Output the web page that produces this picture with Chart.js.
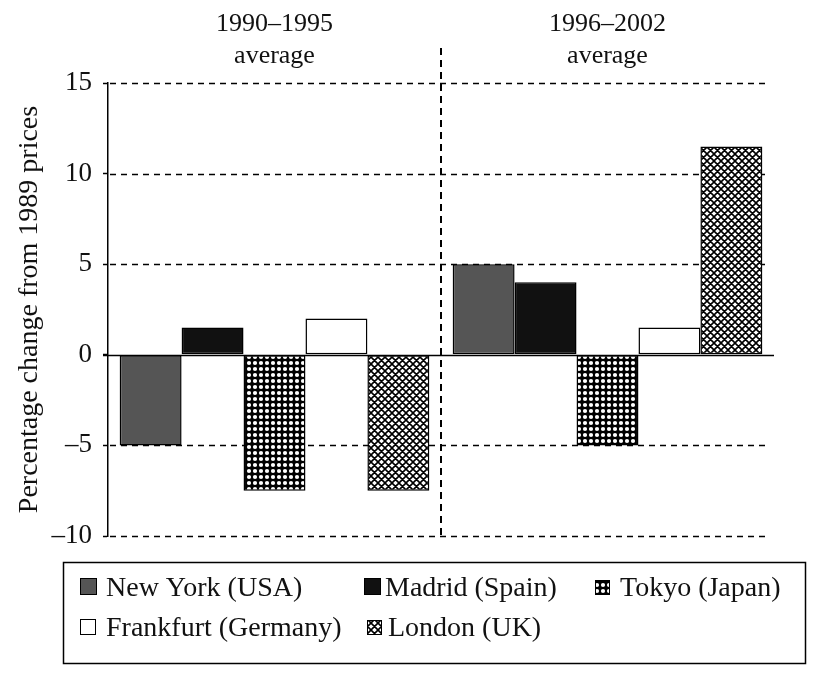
<!DOCTYPE html>
<html>
<head>
<meta charset="utf-8">
<script src="https://cdn.jsdelivr.net/npm/chart.js@4/dist/chart.umd.min.js"></script>
<style>
  body { margin: 0; background: #fff; }
  canvas { display: block; }
</style>
</head>
<body>
<canvas id="chart" width="816" height="676"></canvas>
<script>
// data
const periods = [['1990–1995', 'average'], ['1996–2002', 'average']];
const cities = ['New York (USA)', 'Madrid (Spain)', 'Tokyo (Japan)', 'Frankfurt (Germany)', 'London (UK)'];
const newYork = [-5, 5];
const madrid = [1.5, 4];
const tokyo = [-7.5, -5];
const frankfurt = [2, 1.5];
const london = [-7.5, 11.5];
const yTicks = [-10, -5, 0, 5, 10, 15];
const yTitle = 'Percentage change from 1989 prices';

const FONT = '"Liberation Serif", "DejaVu Serif", serif';

function dotPattern() {
    const c = document.createElement('canvas');
    c.width = 6; c.height = 6;
    const g = c.getContext('2d');
    g.fillStyle = '#000';
    g.fillRect(0, 0, 6, 6);
    g.fillStyle = '#fff';
    g.beginPath();
    g.arc(3, 3, 2.1, 0, Math.PI * 2);
    g.fill();
    return g.createPattern(c, 'repeat');
}

function hatchPattern() {
    const s = 7;
    const c = document.createElement('canvas');
    c.width = s; c.height = s;
    const g = c.getContext('2d');
    g.fillStyle = '#fff';
    g.fillRect(0, 0, s, s);
    g.strokeStyle = '#000';
    g.lineWidth = 1.6;
    g.beginPath();
    for (const k of [-s, 0, s]) {
        g.moveTo(k, 0); g.lineTo(k + s, s);
        g.moveTo(k + s, 0); g.lineTo(k, s);
    }
    g.stroke();
    return g.createPattern(c, 'repeat');
}

const fills = ['#555555', '#111111', dotPattern(), '#ffffff', hatchPattern()];
const series = [newYork, madrid, tokyo, frankfurt, london];

// legend entries: marker x, marker top, marker size, text x, text middle
const legendSpots = [
    [80, 578, 17, 106, 588],
    [364, 578, 17, 385, 588],
    [595, 580, 15, 620, 588],
    [80, 619, 16, 106, 628],
    [367, 620, 15, 388, 628]
];

const decorations = {
    id: 'decorations',
    beforeDatasetsDraw(chart) {
        const ctx = chart.ctx;
        const y = chart.scales.y, x = chart.scales.x;
        const area = chart.chartArea;
        ctx.save();
        ctx.strokeStyle = '#000';
        // dashed grid lines
        ctx.lineWidth = 1.5;
        ctx.setLineDash([6, 5]);
        for (const t of yTicks) {
            if (t === 0) continue;
            const py = Math.round(y.getPixelForValue(t)) + 0.5;
            ctx.beginPath();
            ctx.moveTo(area.left + 2, py);
            ctx.lineTo(area.right - 6, py);
            ctx.stroke();
        }
        // divider between periods
        const mid = (x.getPixelForValue(0) + x.getPixelForValue(1)) / 2;
        ctx.lineWidth = 2;
        ctx.setLineDash([7, 5]);
        ctx.beginPath();
        ctx.moveTo(mid, 48);
        ctx.lineTo(mid, area.bottom);
        ctx.stroke();
        ctx.restore();
    },
    afterDatasetsDraw(chart) {
        const ctx = chart.ctx;
        const y = chart.scales.y, x = chart.scales.x;
        const area = chart.chartArea;
        ctx.save();
        // zero line
        const z = Math.round(y.getPixelForValue(0)) + 0.5;
        ctx.strokeStyle = '#000';
        ctx.lineWidth = 1.5;
        ctx.beginPath();
        ctx.moveTo(area.left - 5, z);
        ctx.lineTo(area.right, z);
        ctx.stroke();

        // period labels on top
        ctx.fillStyle = '#111';
        ctx.font = '26px ' + FONT;
        ctx.textAlign = 'center';
        ctx.textBaseline = 'middle';
        periods.forEach((lines, i) => {
            const px = x.getPixelForValue(i);
            ctx.fillText(lines[0], px, 24);
            ctx.fillText(lines[1], px, 56);
        });

        // legend box
        ctx.lineWidth = 1.5;
        ctx.strokeRect(63.5, 562.5, 742, 101);
        ctx.textAlign = 'left';
        ctx.font = '28px ' + FONT;
        chart.data.datasets.forEach((ds, i) => {
            const [mx, my, ms, tx, ty] = legendSpots[i];
            ctx.fillStyle = ds.backgroundColor;
            ctx.fillRect(mx, my, ms, ms);
            ctx.lineWidth = 1;
            ctx.strokeRect(mx + 0.5, my + 0.5, ms - 1, ms - 1);
            ctx.fillStyle = '#111';
            ctx.fillText(ds.label, tx, ty + 1);
        });
        ctx.restore();
    }
};

new Chart(document.getElementById('chart'), {
    type: 'bar',
    data: {
        labels: periods.map(p => p.join(' ')),
        datasets: cities.map((name, i) => ({
            label: name,
            data: series[i],
            backgroundColor: fills[i],
            borderColor: '#000',
            borderWidth: 1.5,
            borderSkipped: false,
            categoryPercentage: 0.93,
            barPercentage: 1
        }))
    },
    options: {
        responsive: false,
        animation: false,
        layout: { padding: { left: 0, top: 83, right: 42, bottom: 140 } },
        plugins: {
            legend: { display: false },
            tooltip: { enabled: false }
        },
        scales: {
            x: { display: false },
            y: {
                min: -10,
                max: 15,
                afterBuildTicks: s => { s.ticks = yTicks.map(v => ({ value: v })); },
                afterFit: s => { s.width = 108; },
                ticks: {
                    color: '#111',
                    padding: 11,
                    font: { family: FONT, size: 27 },
                    callback: v => String(v).replace('-', '–')
                },
                grid: {
                    drawOnChartArea: false,
                    drawTicks: true,
                    tickLength: 5,
                    tickColor: '#000',
                    tickWidth: 1.5
                },
                border: { display: true, color: '#000', width: 1.5 },
                title: {
                    display: true,
                    text: yTitle,
                    color: '#111',
                    font: { family: FONT, size: 28, lineHeight: 1.2 },
                    padding: { top: 13, bottom: 0 }
                }
            }
        }
    },
    plugins: [decorations]
});
</script>
</body>
</html>
